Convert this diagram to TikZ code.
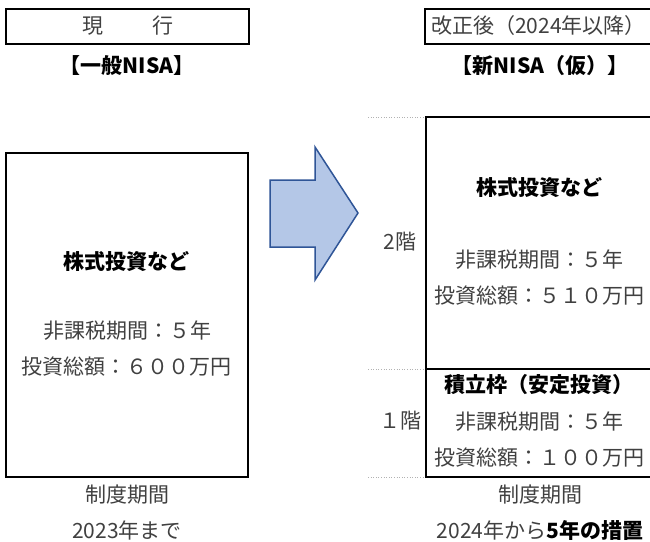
\documentclass[tikz,border=0pt]{standalone}
\usepackage{fontspec}
\setmainfont{Noto Sans CJK JP}
\definecolor{txt}{HTML}{404040}
\definecolor{arrfill}{HTML}{B4C7E7}
\definecolor{arrline}{HTML}{2F5597}
\begin{document}
\begin{tikzpicture}[x=1pt,y=-1pt,
  every node/.style={inner sep=0pt,font=\fontsize{21}{25}\selectfont},
  norm/.style={text=txt,anchor=center},
  bld/.style={text=black,font=\fontsize{21}{25}\selectfont\bfseries,anchor=center},
  box/.style={draw=black,line width=2pt},
  guide/.style={draw=gray!60,dotted,line width=0.6pt}]
\useasboundingbox (0,0) rectangle (650,541);
\clip (0,0) rectangle (650,541);
% top boxes
\draw[box] (6,9) rectangle (249,44);
\node[norm] (cur) at (128,26) {現\hspace{50pt}行};
\draw[box] (425,9) rectangle (660,44);
\node[norm,anchor=west] (rev) at (431,26) {改正後（2024年以降）};
\node[bld] (ippan) at (127,66) {【一般NISA】};
\node[bld] (shin) at (540,66) {【新NISA（仮）】};
% left box
\draw[box] (6,153) rectangle (248,477);
\node[bld] (l1) at (126,262) {株式投資など};
\node[norm] (l2) at (127,331) {非課税期間：５年};
\node[norm] (l3) at (126,367) {投資総額：６００万円};
\node[norm] (l4) at (127,495) {制度期間};
\node[norm] (l5) at (127,530) {2023年まで};
% arrow
\draw[fill=arrfill,draw=arrline,line width=1.5pt,line join=miter]
  (270,180) -- (315,180) -- (315,147) -- (358,213) -- (315,280) -- (315,247) -- (270,247) -- cycle;
% guides
\draw[guide] (368,117) -- (426,117);
\draw[guide] (368,369) -- (426,369);
\draw[guide] (368,477) -- (426,477);
% right box
\draw[box] (426,117) rectangle (660,477);
\draw[box] (426,369) -- (660,369);
\node[bld] (r1) at (539,188) {株式投資など};
\node[norm] (r2) at (539,260) {非課税期間：５年};
\node[norm] (r3) at (539,296) {投資総額：５１０万円};
\node[bld] (r4) at (539,385) {積立枠（安定投資）};
\node[norm] (r5) at (539,422) {非課税期間：５年};
\node[norm] (r6) at (539,458) {投資総額：１００万円};
\node[norm] (f2) at (400,242) {2階};
\node[norm] (f1) at (400,421) {１階};
\node[norm] (r7) at (540,495) {制度期間};
\node[norm] (r8) at (540,530) {2024年から{\color{black}\bfseries 5年の措置}};
\end{tikzpicture}
\end{document}
